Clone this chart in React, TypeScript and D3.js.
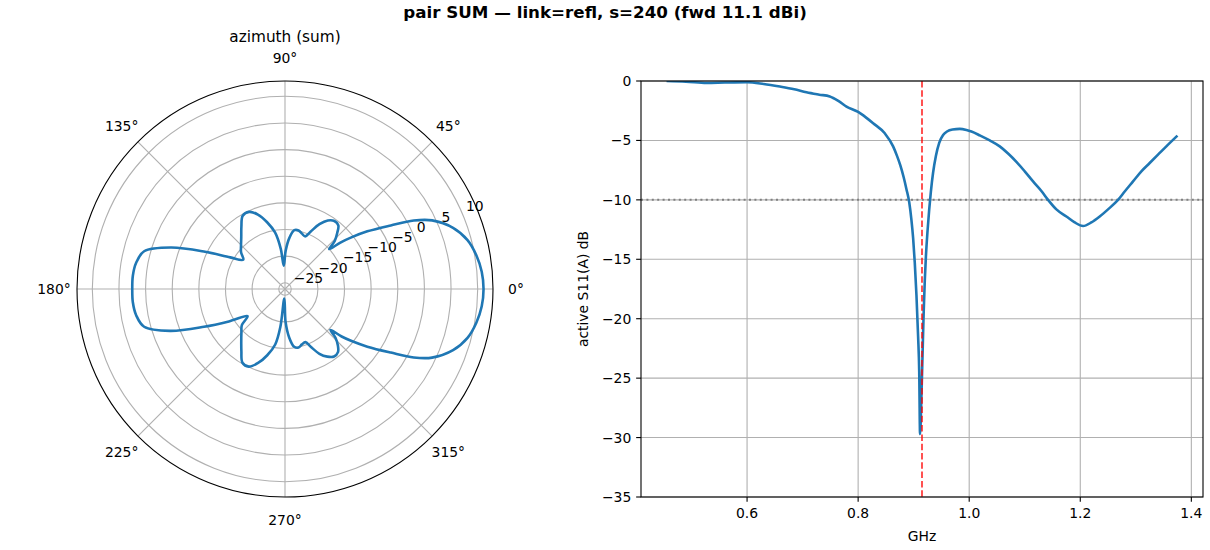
import React from "react";
import * as d3 from "d3";

// ---------- data ----------
const TITLE = "pair SUM — link=refl, s=240 (fwd 11.1 dBi)";
const POLAR_TITLE = "azimuth (sum)";

// azimuth pattern (deg, counter-clockwise from 0°) and gain (dBi)
const AZ_DEG = [
  0, 5, 10, 15, 20, 25, 28, 31, 35, 38, 40, 42, 44, 47, 50, 54, 58, 62, 66, 69,
  73, 77, 81, 85, 89, 93, 96, 100, 105, 110, 115, 120, 125, 130, 135, 140, 145,
  150, 155, 160, 165, 170, 175, 180, 185, 190, 195, 200, 205, 210, 216, 220, 225,
  230, 235, 240, 245, 250, 255, 260, 263, 266, 271, 275, 279, 283, 287, 291, 294,
  298, 302, 306, 310, 313, 316, 318, 320, 322, 325, 329, 332, 335, 340, 345, 350,
  355,
];
const GAIN_DB = [
  11.1, 10.9, 10.3, 9.3, 7.4, 4.3, 1.2, -3.0, -7.3, -10.5, -12.6, -15.0, -13.2,
  -11.8, -10.6, -10.4, -11.0, -12.4, -14.4, -15.6, -15.3, -14.9, -15.0, -16.5,
  -19.0, -21.8, -18.6, -15.4, -13.2, -11.3, -10.2, -10.3, -11.9, -13.4, -14.5,
  -15.4, -16.6, -14.3, -9.6, -3.4, 1.2, 2.2, 2.5, 2.5, 2.5, 2.2, 1.2, -3.2, -9.4,
  -14.0, -17.5, -15.6, -14.6, -13.4, -11.9, -10.2, -10.1, -11.4, -13.3, -15.6,
  -19.0, -24.4, -20.0, -17.0, -15.2, -14.9, -15.3, -15.5, -14.3, -12.4, -11.2,
  -10.5, -10.7, -11.6, -13.0, -14.7, -12.3, -10.3, -7.3, -3.0, 1.2, 4.3, 7.4, 9.3,
  10.3, 10.9,
];
const R_TICKS = [-25, -20, -15, -10, -5, 0, 5, 10];
const THETA_TICKS = [0, 45, 90, 135, 180, 225, 270, 315];

// active S11 vs frequency
const FREQ_GHZ = [
  0.455, 0.49, 0.527, 0.56, 0.6, 0.63, 0.659, 0.685, 0.707, 0.73, 0.749, 0.765,
  0.779, 0.8, 0.815, 0.827, 0.848, 0.863, 0.87, 0.876, 0.882, 0.887, 0.892, 0.896,
  0.899, 0.902, 0.905, 0.908, 0.91, 0.9115, 0.914, 0.916, 0.918, 0.92, 0.922,
  0.925, 0.928, 0.931, 0.935, 0.94, 0.946, 0.953, 0.96, 0.97, 0.983, 0.995, 1.004,
  1.02, 1.037, 1.055, 1.07, 1.085, 1.1, 1.115, 1.13, 1.142, 1.157, 1.175, 1.19,
  1.205, 1.22, 1.235, 1.25, 1.268, 1.28, 1.295, 1.31, 1.325, 1.34, 1.355, 1.375,
];
const S11_DB = [
  0.0, -0.05, -0.17, -0.13, -0.1, -0.25, -0.47, -0.7, -0.95, -1.15, -1.3, -1.7,
  -2.15, -2.6, -3.1, -3.55, -4.4, -5.5, -6.3, -7.1, -8.1, -9.1, -10.2, -11.7,
  -13.2, -15.3, -18.0, -21.5, -24.5, -29.7, -26.5, -23.0, -19.5, -16.8, -14.8,
  -12.6, -10.8, -9.3, -7.7, -6.3, -5.2, -4.55, -4.25, -4.08, -4.03, -4.12, -4.25,
  -4.6, -5.0, -5.5, -6.1, -6.8, -7.6, -8.45, -9.25, -10.0, -10.8, -11.4, -11.9,
  -12.2, -11.9, -11.4, -10.8, -10.0, -9.3, -8.45, -7.6, -6.9, -6.2, -5.5, -4.6,
];
const X_TICKS = [0.6, 0.8, 1.0, 1.2, 1.4];
const Y_TICKS = [0, -5, -10, -15, -20, -25, -30, -35];
const Y_LIM = [-35, 0];
const F_MARK = 0.915;
const S11_THRESH = -10;

// ---------- layout ----------
const W = 1210;
const H = 550;
const FONT = "DejaVu Sans, Liberation Sans, sans-serif";
const BLUE = "#1f77b4";
const GRID = "#b0b0b0";
const TICK_FS = 13.9;

const PCX = 285;
const PCY = 289;
const PR = 208;

const AX = { l: 641, r: 1203, t: 81, b: 497 };

const fmt = (v: number) => (v < 0 ? "\u2212" + Math.abs(v) : String(v));

function Polar() {
  const ext = d3.extent(GAIN_DB) as [number, number];
  const pad = (ext[1] - ext[0]) * 0.05;
  const rScale = d3.scaleLinear().domain([ext[0] - pad, ext[1] + pad]).range([0, PR]);
  const pts = AZ_DEG.map((a, i) => ({ a, g: GAIN_DB[i] }));
  const line = d3
    .lineRadial<{ a: number; g: number }>()
    .angle((d) => ((90 - d.a) * Math.PI) / 180)
    .radius((d) => rScale(d.g))
    .curve(d3.curveCatmullRomClosed.alpha(0.5));
  const labA = (22.5 * Math.PI) / 180;
  return (
    <g>
      <text x={PCX} y={42} textAnchor="middle" fontSize={15.3} fontFamily={FONT}>
        {POLAR_TITLE}
      </text>
      <g transform={`translate(${PCX},${PCY})`}>
        {R_TICKS.map((t) => (
          <circle key={t} r={rScale(t)} fill="none" stroke={GRID} strokeWidth={1.1} />
        ))}
        {THETA_TICKS.map((t) => {
          const a = (t * Math.PI) / 180;
          return (
            <line
              key={t}
              x1={0}
              y1={0}
              x2={PR * Math.cos(a)}
              y2={-PR * Math.sin(a)}
              stroke={GRID}
              strokeWidth={1.1}
            />
          );
        })}
        <path d={line(pts) || ""} fill="none" stroke={BLUE} strokeWidth={2.6} strokeLinejoin="round" />
        <circle r={PR} fill="none" stroke="#000" strokeWidth={1.1} />
        {R_TICKS.map((t) => {
          const r = rScale(t);
          return (
            <text
              key={t}
              x={r * Math.cos(labA) + 3}
              y={-r * Math.sin(labA) - 3.8}
              fontSize={TICK_FS}
              fontFamily={FONT}
              textAnchor="start"
            >
              {fmt(t)}
            </text>
          );
        })}
        {THETA_TICKS.map((t) => {
          const a = (t * Math.PI) / 180;
          const rr = 231;
          return (
            <text
              key={t}
              x={rr * Math.cos(a)}
              y={-rr * Math.sin(a)}
              dy="0.36em"
              fontSize={TICK_FS}
              fontFamily={FONT}
              textAnchor="middle"
            >
              {t + "\u00b0"}
            </text>
          );
        })}
      </g>
    </g>
  );
}

function S11Plot() {
  const xe = d3.extent(FREQ_GHZ) as [number, number];
  const xp = (xe[1] - xe[0]) * 0.05;
  const x = d3.scaleLinear().domain([xe[0] - xp, xe[1] + xp]).range([AX.l, AX.r]);
  const y = d3.scaleLinear().domain(Y_LIM).range([AX.b, AX.t]);
  const pts = FREQ_GHZ.map((f, i) => [f, S11_DB[i]] as [number, number]);
  const line = d3
    .line<[number, number]>()
    .x((d) => x(d[0]))
    .y((d) => y(d[1]))
    .curve(d3.curveMonotoneX);
  const tl = 4.86;
  return (
    <g fontFamily={FONT}>
      <defs>
        <clipPath id="axclip">
          <rect x={AX.l} y={AX.t} width={AX.r - AX.l} height={AX.b - AX.t} />
        </clipPath>
      </defs>
      {X_TICKS.map((t) => (
        <line key={"gx" + t} x1={x(t)} x2={x(t)} y1={AX.t} y2={AX.b} stroke={GRID} strokeWidth={1.1} />
      ))}
      {Y_TICKS.map((t) => (
        <line key={"gy" + t} x1={AX.l} x2={AX.r} y1={y(t)} y2={y(t)} stroke={GRID} strokeWidth={1.1} />
      ))}
      <g clipPath="url(#axclip)">
        <line
          x1={AX.l}
          x2={AX.r}
          y1={y(S11_THRESH)}
          y2={y(S11_THRESH)}
          stroke="#808080"
          strokeWidth={2}
          strokeDasharray="2,3.4"
        />
        <path d={line(pts) || ""} fill="none" stroke={BLUE} strokeWidth={2.6} strokeLinejoin="round" />
        <line
          x1={x(F_MARK)}
          x2={x(F_MARK)}
          y1={AX.t}
          y2={AX.b}
          stroke="red"
          strokeOpacity={0.8}
          strokeWidth={1.7}
          strokeDasharray="6.5,2.8"
        />
      </g>
      <rect
        x={AX.l}
        y={AX.t}
        width={AX.r - AX.l}
        height={AX.b - AX.t}
        fill="none"
        stroke="#000"
        strokeWidth={1.1}
      />
      {X_TICKS.map((t) => (
        <g key={"tx" + t}>
          <line x1={x(t)} x2={x(t)} y1={AX.b} y2={AX.b + tl} stroke="#000" strokeWidth={1.1} />
          <text x={x(t)} y={AX.b + 20.5} textAnchor="middle" fontSize={TICK_FS}>
            {t.toFixed(1)}
          </text>
        </g>
      ))}
      {Y_TICKS.map((t) => (
        <g key={"ty" + t}>
          <line x1={AX.l - tl} x2={AX.l} y1={y(t)} y2={y(t)} stroke="#000" strokeWidth={1.1} />
          <text x={AX.l - 2 * tl} y={y(t)} dy="0.36em" textAnchor="end" fontSize={TICK_FS}>
            {fmt(t)}
          </text>
        </g>
      ))}
      <text x={(AX.l + AX.r) / 2} y={541} textAnchor="middle" fontSize={TICK_FS}>
        GHz
      </text>
      <text
        transform={`translate(${588},${(AX.t + AX.b) / 2}) rotate(-90)`}
        textAnchor="middle"
        fontSize={TICK_FS}
      >
        active S11(A) dB
      </text>
    </g>
  );
}

export default function App() {
  return (
    <svg
      width={W}
      height={H}
      viewBox={`0 0 ${W} ${H}`}
      style={{ position: "absolute", left: 0, top: 0, background: "#fff" }}
    >
      <rect width={W} height={H} fill="#fff" />
      <text x={W / 2} y={18.2} textAnchor="middle" fontSize={16.7} fontWeight="bold" fontFamily={FONT}>
        {TITLE}
      </text>
      <Polar />
      <S11Plot />
    </svg>
  );
}
